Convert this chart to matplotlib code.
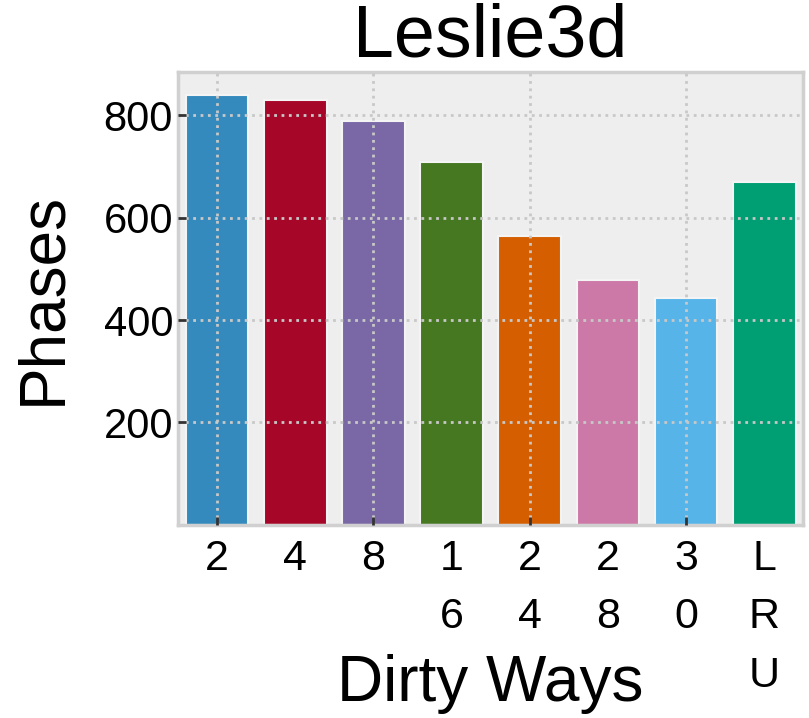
import matplotlib
matplotlib.use('Agg')
import matplotlib.pyplot as plt

plt.style.use('bmh')
plt.rcParams['font.family'] = ['Liberation Sans', 'DejaVu Sans']

labels = ['2', '4', '8', '1\n6', '2\n4', '2\n8', '3\n0', 'L\nR\nU']
phases = [839, 829, 789, 709, 565, 479, 443, 670]
colors = ['#348ABD', '#A60628', '#7A68A6', '#467821',
          '#D55E00', '#CC79A7', '#56B4E9', '#009E73']

fig = plt.figure(figsize=(8.09, 7.18), dpi=100)
ax = fig.add_axes([0.22, 0.269, 0.773, 0.631])

x = list(range(len(labels)))
ax.bar(x, phases, width=0.8, color=colors, edgecolor='#f4f4f4', linewidth=1.5)

ax.set_xlim(-0.5, len(labels) - 0.5)
ax.set_ylim(0, 885)
ax.set_yticks([200, 400, 600, 800])

# labels on every bar, grid + tick marks only on every other bar
ax.xaxis.remove_overlapping_locs = False
ax.set_xticks(x)
ax.set_xticklabels(labels, linespacing=1.6)
ax.set_xticks([0, 2, 4, 6], minor=True)
ax.tick_params(axis='x', which='major', length=0, pad=10, labelsize=31)
ax.tick_params(axis='x', which='minor', length=6, width=2, color='#333333',
               direction='in')
ax.tick_params(axis='y', which='major', length=6, width=2, color='#333333',
               direction='in', labelsize=30)
ax.grid(False, axis='x', which='major')
ax.grid(True, axis='x', which='minor', linestyle=':', linewidth=2, color='#c8c8c8')
ax.grid(True, axis='y', which='major', linestyle=':', linewidth=2, color='#c8c8c8')
ax.set_axisbelow(False)

for s in ax.spines.values():
    s.set_color('#d0d0d0')
    s.set_linewidth(2.5)

ax.set_title('Leslie3d', fontsize=53, pad=-4)
ax.set_ylabel('Phases', fontsize=46, labelpad=22)
ax.set_xlabel('Dirty Ways', fontsize=46, labelpad=-30)

fig.savefig('out.png', dpi=100)
